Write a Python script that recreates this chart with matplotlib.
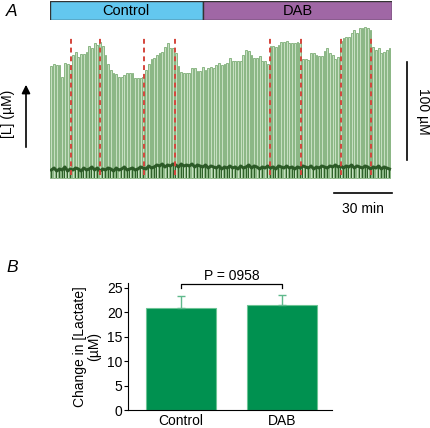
import matplotlib.pyplot as plt
import numpy as np

plt.rcParams['font.family'] = ['Liberation Sans', 'DejaVu Sans']

# ---- panel A: lactate trace (one value per peak, units ~uM) ----
peak_height = [112, 114, 113, 113, 101, 115, 114, 113, 123, 126,
               121, 124, 124, 126, 132, 130, 135, 133, 136, 132,
               123, 114, 108, 105, 104, 101, 101, 103, 105, 105,
               105, 100, 100, 100, 101, 108, 114, 119, 120, 123,
               125, 126, 131, 135, 130, 130, 125, 112, 106, 105,
               105, 105, 110, 110, 107, 107, 111, 108, 110, 111,
               110, 113, 115, 113, 114, 115, 120, 117, 117, 117,
               117, 123, 128, 127, 123, 120, 120, 122, 117, 117,
               114, 132, 132, 131, 133, 136, 136, 137, 135, 135,
               135, 136, 135, 119, 119, 118, 125, 125, 123, 122,
               122, 127, 130, 125, 123, 119, 121, 137, 140, 141,
               141, 145, 148, 145, 150, 150, 151, 150, 148, 131,
               128, 130, 125, 126, 128, 130]
baseline = [8, 10, 7, 9, 8, 11, 7, 9, 8, 10, 9, 7, 10, 8, 9, 11, 8, 10, 7, 9,
            8, 10, 9, 7, 10, 8, 9, 11, 8, 9, 10, 8, 9, 11, 10, 9, 12, 10, 11, 13,
            12, 14, 11, 13, 12, 14, 13, 11, 14, 12, 13, 12, 14, 11, 13, 12, 11, 13, 10, 12,
            11, 10, 12, 9, 11, 10, 12, 10, 11, 9, 12, 10, 11, 13, 10, 12, 11, 9, 11, 10,
            12, 10, 11, 9, 12, 11, 10, 12, 10, 11, 9, 11, 10, 12, 11, 10, 12, 9, 11, 10,
            12, 11, 10, 12, 11, 13, 11, 12, 10, 12, 11, 13, 10, 12, 11, 10, 12, 11, 9, 11,
            10, 12, 9, 11, 10, 9]
sample_period = 1.4  # min between peaks
stim_marks = [10.9, 25.9, 48.6, 64.7, 113.8, 129.8, 150.5, 166.0]  # min
phases = ['Control', 'DAB']
phase_start = [0, 79]
phase_end = [79, 177]
phase_colors = ['#63c7ef', '#a067a5']

# ---- panel B ----
groups = ['Control', 'DAB']
mean_change = [20.8, 21.4]
sem_change = [2.4, 2.1]
p_text = 'P = 0958'

W, H = 430, 428
fig = plt.figure(figsize=(W / 100, H / 100), dpi=100)


def px_axes(x0, y0, x1, y1):
    return fig.add_axes([x0 / W, 1 - y1 / H, (x1 - x0) / W, (y1 - y0) / H])


# header bar
axh = px_axes(50, 1, 392, 20)
for name, s, e, c in zip(phases, phase_start, phase_end, phase_colors):
    axh.barh(0, e - s, left=s, height=1, color=c, edgecolor='#333333', linewidth=1)
    axh.text((s + e) / 2, -0.02, name, ha='center', va='center', fontsize=10.5)
axh.set_xlim(0, 177)
axh.set_ylim(-0.5, 0.5)
axh.axis('off')

# trace
ax = px_axes(50, 26, 392, 180)
t = sample_period * (np.arange(len(peak_height)) + 0.5)
ax.bar(t, peak_height, width=0.95, color='#c6dfc1', edgecolor='#8ab684', linewidth=0.7)
ax.bar(t, baseline, width=0.45, color='#2f622a', linewidth=0)
ax.plot(t, baseline, color='#2c5a27', lw=2.2)
for m in stim_marks:
    ax.plot([m, m], [3, 143], color='#d4453c', lw=1.4, ls=(0, (2.5, 2)))
ax.set_xlim(0, 177)
ax.set_ylim(-2, 152)
ax.axis('off')

# scale bars
ax.plot([184.7, 184.7], [18, 116], color='black', lw=1.2, clip_on=False)
ax.text(193, 67, '100 µM', rotation=270, ha='center', va='center', fontsize=10)
ax.plot([147, 177], [-15, -15], color='black', lw=1.2, clip_on=False)
ax.text(162, -31, '30 min', ha='center', va='center', fontsize=10)

# y arrow and label
fig.patches.append(plt.matplotlib.patches.FancyArrowPatch(
    (26 / W, 1 - 150 / H), (26 / W, 1 - 82 / H), transform=fig.transFigure,
    arrowstyle='-|>,head_length=5,head_width=2.5', color='black', lw=1.2))
fig.text(8 / W, 1 - 114 / H, '[L] (µM)', rotation=90, ha='center', va='center', fontsize=10)

fig.text(12 / W, 1 - 11 / H, 'A', fontsize=12.5, style='italic', ha='center', va='center')
fig.text(12 / W, 1 - 268 / H, 'B', fontsize=12.5, style='italic', ha='center', va='center')

# panel B
axb = px_axes(128, 283, 332, 410)
xb = np.arange(len(groups))
axb.bar(xb, mean_change, width=0.693, color='#009150', edgecolor='#6cc494', linewidth=0.8)
axb.errorbar(xb, mean_change, yerr=[[0, 0], sem_change], fmt='none',
             ecolor='#5fb98c', elinewidth=1, capsize=3, capthick=1)
axb.set_xlim(-0.525, 1.495)
axb.set_ylim(0, 25.94)
axb.set_yticks([0, 5, 10, 15, 20, 25])
axb.set_xticks(xb)
axb.set_xticklabels(groups)
axb.tick_params(axis='y', length=3, width=0.8, labelsize=10, pad=1)
axb.tick_params(axis='x', length=0, labelsize=10, pad=3)
for sp in ['top', 'right']:
    axb.spines[sp].set_visible(False)
for sp in ['left', 'bottom']:
    axb.spines[sp].set_linewidth(0.8)
axb.plot([0, 0, 1, 1], [24.9, 25.76, 25.76, 24.9], color='black', lw=0.9, clip_on=False)
axb.text(0.5, 26.0, p_text, ha='center', va='bottom', fontsize=10)
axb.set_ylabel('Change in [Lactate]\n(µM)', fontsize=10, labelpad=4, linespacing=1.0)

fig.savefig('out.png', dpi=100)
